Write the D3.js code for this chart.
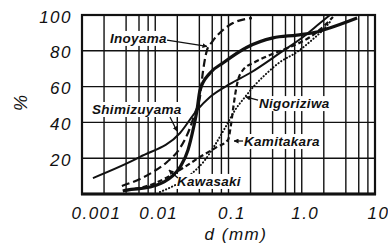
<!DOCTYPE html>
<html>
<head>
<meta charset="utf-8">
<script src="https://cdn.jsdelivr.net/npm/d3@7"></script>
<style>
body { margin: 0; background: #fff; }
svg text { font-family: 'Liberation Sans', Arial, sans-serif; font-style: italic; fill: #111; }
.lbl { font-weight: bold; font-size: 13.5px; letter-spacing: 0.3px; }
.tick text { font-family: 'Liberation Sans', Arial, sans-serif; font-style: italic; font-size: 17px; letter-spacing: 1.5px; }
</style>
</head>
<body>
<script>
// axis values
var xTicks = [0.001, 0.01, 0.1, 1, 10];
var xTickLabels = ['0.001', '0.01', '0.1', '1.0', '10'];
var yTicks = [20, 40, 60, 80, 100];
var gridMults = [2, 4, 6, 8];

// grain size d (mm) and cumulative % per sample
var kawasakiD = [0.0036, 0.0041, 0.0085, 0.0145, 0.0218, 0.028, 0.0328, 0.0372, 0.0408, 0.056, 0.084, 0.179, 0.405, 0.86, 1.6, 2.4, 5.7];
var kawasakiP = [1.7, 2.2, 3.9, 7.8, 15, 24.6, 35.8, 47, 58, 67.6, 73.2, 82, 87.2, 88.8, 90.5, 92.7, 98.3];

var shimizuyamaD = [0.00141, 0.0062, 0.0218, 0.0372, 0.0559, 0.105, 0.197, 0.505, 1.04, 1.78, 2.43];
var shimizuyamaP = [8.9, 20.7, 34.1, 46.9, 54.2, 61.5, 67.6, 78.8, 87.7, 95.5, 100];

var inoyamaD = [0.0035, 0.0062, 0.0093, 0.0145, 0.0218, 0.0298, 0.0349, 0.0408, 0.0449, 0.0509, 0.0595, 0.0841, 0.115, 0.209];
var inoyamaP = [4.5, 8.4, 12.3, 17.9, 25.7, 36.9, 45.3, 54.2, 68.7, 80.4, 84.9, 91.6, 95.5, 98.3];

var nigoriziwaD = [0.0116, 0.0298, 0.0478, 0.0654, 0.0896, 0.123, 0.168, 0.23, 0.315, 0.505, 0.861, 1.43, 1.95, 2.43];
var nigoriziwaP = [1.1, 10.6, 19, 27.4, 36.9, 46.9, 54.2, 60.9, 66.5, 73.7, 79.3, 86.6, 91.6, 96.1];

var kamitakaraD = [0.0041, 0.0085, 0.0239, 0.0408, 0.0697, 0.0984, 0.108, 0.115, 0.123, 0.135, 0.158, 0.23, 0.369, 0.691, 1.3, 2.08, 2.67];
var kamitakaraP = [2.2, 5, 14.5, 20.7, 26.3, 30.2, 38.5, 46.9, 55.3, 63.7, 69.3, 73.7, 77.7, 82.1, 87.7, 94.4, 98.9];

var width = 388, height = 246;

var x = d3.scaleLog().domain([0.001, 10]).range([82, 375]);
var y = d3.scaleLinear().domain([0, 100]).range([194, 15]);

var svg = d3.select('body').append('svg')
    .attr('width', width)
    .attr('height', height)
    .style('background', '#fff');

svg.append('defs').append('marker')
    .attr('id', 'head')
    .attr('viewBox', '0 0 10 10')
    .attr('refX', 9).attr('refY', 5)
    .attr('markerWidth', 5).attr('markerHeight', 5)
    .attr('markerUnits', 'userSpaceOnUse')
    .attr('orient', 'auto')
  .append('path')
    .attr('d', 'M0,0 L10,5 L0,10 z')
    .style('fill', '#111');

// grid: 2,4,6,8 and decades
var vLines = [];
xTicks.forEach(function (dec, i) {
    vLines.push(dec);
    if (i < xTicks.length - 1) gridMults.forEach(function (m) { vLines.push(dec * m); });
});

svg.append('g').selectAll('line')
    .data(vLines)
    .enter().append('line')
    .attr('x1', function (d) { return x(d); })
    .attr('x2', function (d) { return x(d); })
    .attr('y1', y(0)).attr('y2', y(100))
    .style('stroke', '#111').style('stroke-width', 1.4);

svg.append('g').selectAll('line')
    .data(yTicks)
    .enter().append('line')
    .attr('x1', x(0.001)).attr('x2', x(10))
    .attr('y1', function (d) { return y(d); })
    .attr('y2', function (d) { return y(d); })
    .style('stroke', '#111').style('stroke-width', 1.4);

// curves
var series = [
    { name: 'Kawasaki', d: kawasakiD, p: kawasakiP, w: 3.2, dash: null },
    { name: 'Shimizuyama', d: shimizuyamaD, p: shimizuyamaP, w: 2, dash: null },
    { name: 'Inoyama', d: inoyamaD, p: inoyamaP, w: 2.2, dash: '8,4' },
    { name: 'Nigoriziwa', d: nigoriziwaD, p: nigoriziwaP, w: 2, dash: '0.3,3', cap: 'round' },
    { name: 'Kamitakara', d: kamitakaraD, p: kamitakaraP, w: 2.2, dash: '5,3' }
];

var line = d3.line()
    .x(function (d) { return x(d[0]); })
    .y(function (d) { return y(d[1]); })
    .curve(d3.curveMonotoneX);

svg.append('g').selectAll('path')
    .data(series)
    .enter().append('path')
    .attr('d', function (s) { return line(d3.zip(s.d, s.p)); })
    .style('fill', 'none')
    .style('stroke', '#111')
    .style('stroke-width', function (s) { return s.w; })
    .style('stroke-dasharray', function (s) { return s.dash; })
    .style('stroke-linecap', function (s) { return s.cap || 'butt'; });

// curve labels with leader arrows (in data units)
var notes = [
    { text: 'Inoyama', d: 0.00241, p: 84.4, from: [0.0145, 86], to: [0.0509, 82.5] },
    { text: 'Shimizuyama', d: 0.00137, p: 44.7, from: [0.0159, 43], to: [0.0198, 35.2] },
    { text: 'Nigoriziwa', d: 0.261, p: 48, from: [0.253, 52.5], to: [0.172, 54.2] },
    { text: 'Kamitakara', d: 0.1627, p: 26.8, from: [0.158, 29.6], to: [0.119, 29.6] },
    { text: 'Kawasaki', d: 0.0198, p: 4.5, from: [0.0204, 8.9], to: [0.0154, 13.4] }
];

var noteG = svg.append('g');
notes.forEach(function (n) {
    var g = noteG.append('g');
    var bg = g.append('rect').style('fill', '#fff');
    var t = g.append('text')
        .attr('class', 'lbl')
        .attr('x', x(n.d))
        .attr('y', y(n.p))
        .text(n.text);
    var b = t.node().getBBox();
    bg.attr('x', b.x - 1).attr('y', b.y).attr('width', b.width + 2).attr('height', b.height);
    g.append('line')
        .attr('x1', x(n.from[0])).attr('y1', y(n.from[1]))
        .attr('x2', x(n.to[0])).attr('y2', y(n.to[1]))
        .style('stroke', '#111').style('stroke-width', 1.3)
        .attr('marker-end', 'url(#head)');
});

// frame
svg.append('rect')
    .attr('x', x(0.001)).attr('y', y(100))
    .attr('width', x(10) - x(0.001)).attr('height', y(0) - y(100))
    .style('fill', 'none').style('stroke', '#111').style('stroke-width', 2.2);
svg.append('line')
    .attr('x1', x(0.001) - 1).attr('x2', x(10) + 1)
    .attr('y1', y(0)).attr('y2', y(0))
    .style('stroke', '#111').style('stroke-width', 3);

// axes
var xAxis = svg.append('g')
    .attr('transform', 'translate(0,' + y(0) + ')')
    .call(d3.axisBottom(x).tickValues(xTicks).tickSize(0).tickPadding(13)
        .tickFormat(function (d, i) { return xTickLabels[i]; }));
xAxis.select('.domain').remove();
xAxis.selectAll('text')
    .attr('dx', function (d, i) { return i === 0 ? 14 : 3; });

var yAxis = svg.append('g')
    .attr('transform', 'translate(' + x(0.001) + ',0)')
    .call(d3.axisLeft(y).tickValues(yTicks).tickSize(0).tickPadding(10));
yAxis.select('.domain').remove();
yAxis.selectAll('text')
    .attr('dy', '0.42em');

svg.append('text')
    .attr('transform', 'translate(27,103) rotate(-90)')
    .attr('text-anchor', 'middle')
    .style('font-size', '18px')
    .text('%');

svg.append('text')
    .attr('x', 236).attr('y', 240)
    .attr('text-anchor', 'middle')
    .style('font-size', '17px')
    .style('letter-spacing', '1.5px')
    .text('d (mm)');
</script>
</body>
</html>
